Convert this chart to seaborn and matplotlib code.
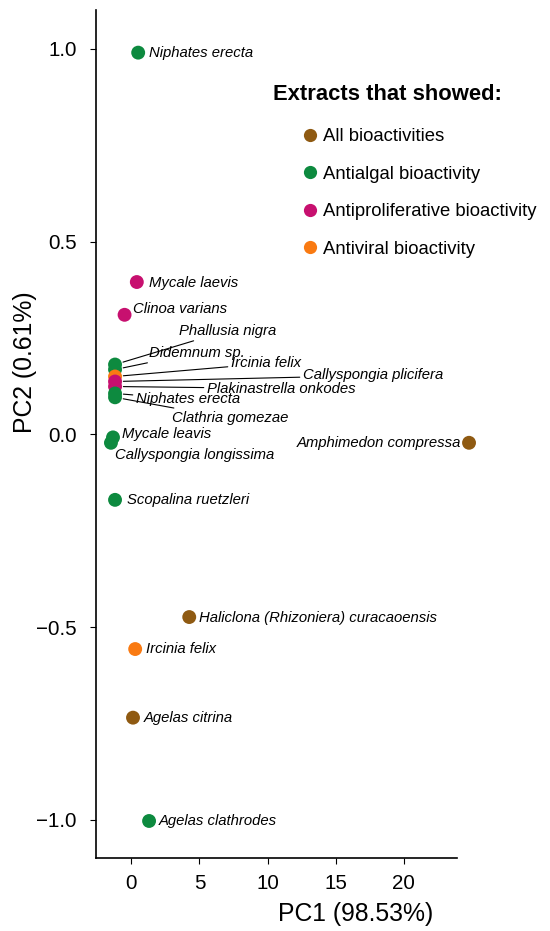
import matplotlib
matplotlib.use("Agg")
import matplotlib.pyplot as plt
import seaborn as sns
import pandas as pd
from matplotlib.lines import Line2D

# ---- data ----
species = ["Niphates erecta", "Mycale laevis", "Clinoa varians",
           "Phallusia nigra", "Didemnum sp.", "Ircinia felix",
           "Callyspongia plicifera", "Plakinastrella onkodes", "Niphates erecta",
           "Clathria gomezae", "Mycale leavis", "Callyspongia longissima",
           "Amphimedon compressa", "Scopalina ruetzleri",
           "Haliclona (Rhizoniera) curacaoensis", "Ircinia felix",
           "Agelas citrina", "Agelas clathrodes"]
pc1 = [0.5, 0.4, -0.5,
       -1.2, -1.2, -1.2,
       -1.2, -1.2, -1.2,
       -1.2, -1.35, -1.5,
       24.8, -1.2,
       4.25, 0.28,
       0.12, 1.3]
pc2 = [0.99, 0.395, 0.31,
       0.181, 0.168, 0.150,
       0.137, 0.124, 0.106,
       0.096, -0.008, -0.022,
       -0.022, -0.17,
       -0.474, -0.557,
       -0.735, -1.003]
group = ["Antialgal bioactivity", "Antiproliferative bioactivity", "Antiproliferative bioactivity",
         "Antialgal bioactivity", "Antialgal bioactivity", "Antiviral bioactivity",
         "Antiproliferative bioactivity", "Antiproliferative bioactivity", "Antialgal bioactivity",
         "Antialgal bioactivity", "Antialgal bioactivity", "Antialgal bioactivity",
         "All bioactivities", "Antialgal bioactivity",
         "All bioactivities", "Antiviral bioactivity",
         "All bioactivities", "Antialgal bioactivity"]
categories = ["All bioactivities", "Antialgal bioactivity",
              "Antiproliferative bioactivity", "Antiviral bioactivity"]
x_ticks = [0, 5, 10, 15, 20]
y_ticks = [-1.0, -0.5, 0.0, 0.5, 1.0]

# ---- style ----
colors = ["#8f5a12", "#0d8a3f", "#c7106f", "#f97a12"]
palette = dict(zip(categories, colors))
# label offsets in pixels (dx, dy) and whether a leader line is drawn
offsets = [(11, 0, False), (12, -1, False), (8, 6, False),
           (64, 34, True), (34, 17, True), (116, 13, True),
           (188, 6, True), (92, -2, True), (21, -6, True),
           (57, -21, True), (9, 3, False), (4, -12, False),
           (-8, 0, False), (12, 0, False),
           (10, -1, False), (11, 0, False),
           (11, 0, False), (10, 0, False)]

sns.set_theme(style="ticks")
plt.rcParams["font.family"] = ["Liberation Sans", "DejaVu Sans"]
plt.rcParams["text.color"] = "black"
plt.rcParams["axes.labelcolor"] = "black"
plt.rcParams["xtick.color"] = "black"
plt.rcParams["ytick.color"] = "black"

df = pd.DataFrame({"species": species, "PC1": pc1, "PC2": pc2, "group": group})

fig = plt.figure(figsize=(5.5, 9.31), dpi=100)
ax = fig.add_axes([0.1745, 0.078, 0.8305 - 0.1745, 0.989 - 0.078])

sns.scatterplot(data=df, x="PC1", y="PC2", hue="group", hue_order=categories,
                palette=palette, s=100, edgecolor="none", linewidth=0,
                ax=ax, legend=False, clip_on=False, zorder=3)

for i, row in df.iterrows():
    dx, dy, line = offsets[i]
    ha = "right" if dx < 0 else "left"
    ax.annotate(row["species"], xy=(row["PC1"], row["PC2"]),
                xytext=(dx, dy), textcoords="offset pixels",
                ha=ha, va="center", fontsize=10.7, style="italic",
                annotation_clip=False,
                arrowprops=dict(arrowstyle="-", color="black", lw=0.8,
                                shrinkA=0, shrinkB=6) if line else None,
                zorder=2)

ax.set_xlim(-2.6, 23.9)
ax.set_ylim(-1.1, 1.1)
ax.set_xticks(x_ticks)
ax.set_yticks(y_ticks)
ax.set_xticklabels([str(t) for t in x_ticks])
ax.set_yticklabels([f"{t:.1f}".replace("-", "\u2212") for t in y_ticks])
ax.tick_params(axis="both", labelsize=14.8, length=4, width=0.8,
               colors="black")
ax.tick_params(axis="x", pad=7)
ax.tick_params(axis="y", pad=10)
for s in ["left", "bottom"]:
    ax.spines[s].set_linewidth(1.2)
    ax.spines[s].set_color("black")
sns.despine(ax=ax)
ax.set_xlabel("PC1 (98.53%)", fontsize=17.8)
ax.set_ylabel("PC2 (0.61%)", fontsize=17.8)
ax.xaxis.set_label_coords(0.72, -0.052)
ax.yaxis.set_label_coords(-0.164, 0.585)

handles = [Line2D([0], [0], marker="o", linestyle="none", markersize=9.5,
                  markerfacecolor=c, markeredgecolor="none") for c in colors]
fig.text(273 / 550, 1 - 95 / 931, "Extracts that showed:", fontsize=15.8,
         fontweight="bold", ha="left", va="center")
leg = fig.legend(handles, categories, loc="upper left",
                 bbox_to_anchor=(301 / 550, 1 - 128 / 931), frameon=False,
                 fontsize=13.3, handlelength=1.0, handletextpad=0.2,
                 labelspacing=1.11, borderpad=0, borderaxespad=0)

fig.savefig("out.png", dpi=100)
